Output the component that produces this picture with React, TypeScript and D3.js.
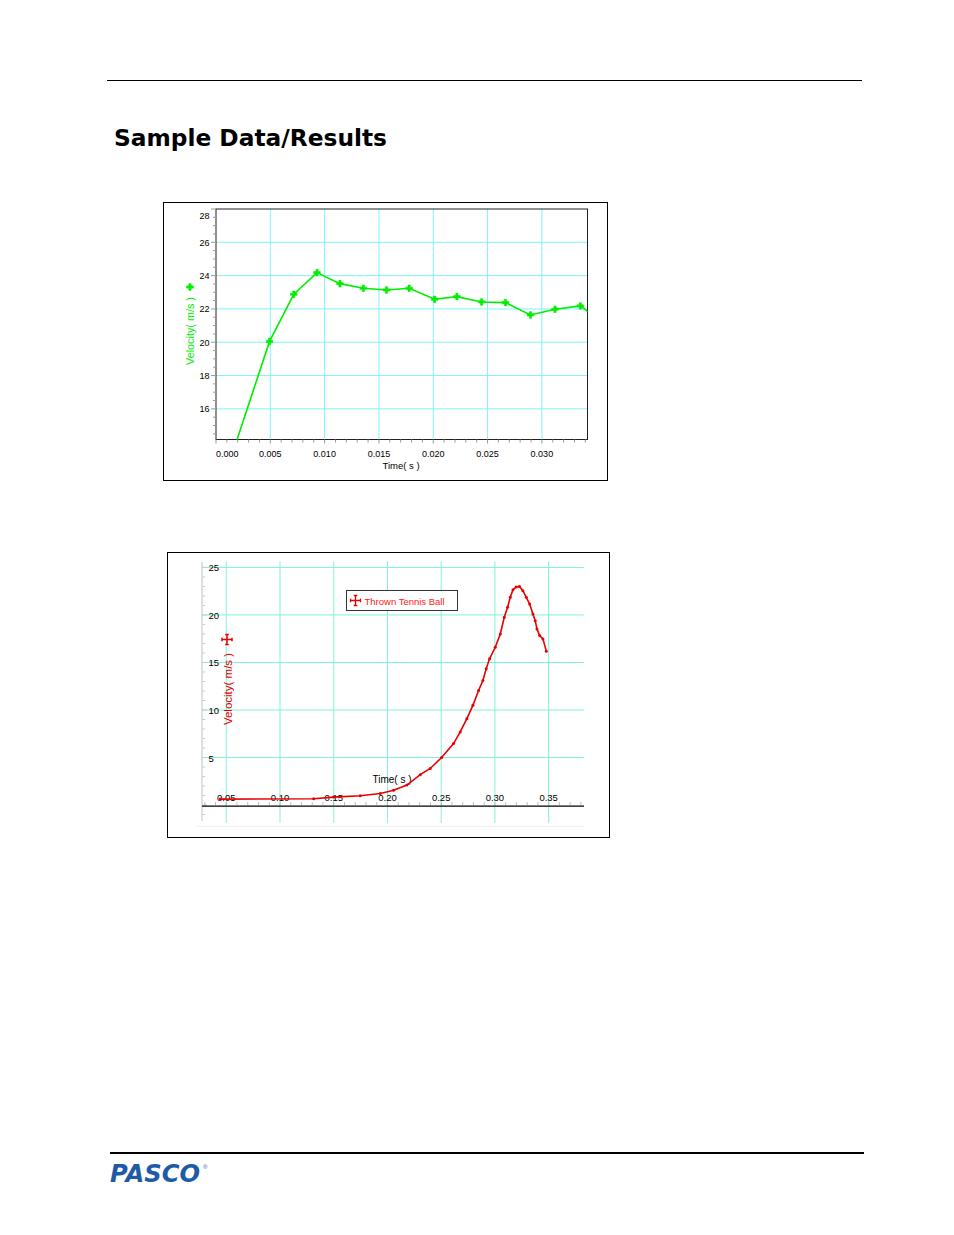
import React from "react";
import * as d3 from "d3";

// ---------- Data: top chart (green) ----------
const topTime = [0.00064, 0.00493, 0.00716, 0.0093, 0.01141, 0.01356, 0.0157, 0.01778, 0.02013, 0.02218, 0.02445, 0.02665, 0.02895, 0.03121, 0.03354, 0.03574];
const topVel = [11.6, 20.05, 22.88, 24.18, 23.52, 23.24, 23.14, 23.24, 22.58, 22.74, 22.42, 22.38, 21.64, 21.98, 22.18, 21.1];
const topXTicks = [0, 0.005, 0.01, 0.015, 0.02, 0.025, 0.03];
const topXTickLabels = ["0.000", "0.005", "0.010", "0.015", "0.020", "0.025", "0.030"];
const topYTicks = [16, 18, 20, 22, 24, 26, 28];

// ---------- Data: bottom chart (red, Thrown Tennis Ball) ----------
const botTime = [0.0444, 0.1313, 0.1499, 0.1747, 0.1933, 0.2057, 0.2181, 0.2305, 0.2398, 0.2504, 0.2615, 0.2677, 0.2739, 0.2795, 0.2848, 0.2888, 0.2919, 0.295, 0.3003, 0.305, 0.3087, 0.3118, 0.3143, 0.3168, 0.3198, 0.3229, 0.326, 0.3292, 0.3323, 0.3354, 0.3375, 0.3391, 0.3416, 0.3447, 0.3478];
const botVel = [0.63, 0.66, 0.84, 0.98, 1.22, 1.57, 2.1, 3.2, 3.85, 5.0, 6.47, 7.69, 9.09, 10.49, 12.06, 13.1, 14.34, 15.38, 16.6, 18.0, 19.76, 20.8, 21.85, 22.66, 22.95, 23.0, 22.55, 21.85, 21.15, 20.1, 19.4, 18.53, 17.83, 17.48, 16.19];
const botXTicks = [0.05, 0.1, 0.15, 0.2, 0.25, 0.3, 0.35];
const botXTickLabels = ["0.05", "0.10", "0.15", "0.20", "0.25", "0.30", "0.35"];
const botYTicks = [5, 10, 15, 20, 25];
const legendLabel = "Thrown Tennis Ball";

const FONT = "'Liberation Sans', Arial, sans-serif";

function moveIcon(cx: number, cy: number) {
  const s = 5;
  const a = 1.8;
  return `M${cx - s},${cy}H${cx + s}M${cx},${cy - s}V${cy + s}` +
    `M${cx - s},${cy - a}V${cy + a}M${cx + s},${cy - a}V${cy + a}` +
    `M${cx - a},${cy - s}H${cx + a}M${cx - a},${cy + s}H${cx + a}`;
}

function TopChart() {
  const x = d3.scaleLinear().domain([0, 0.0342]).range([216, 587.5]);
  const y = d3.scaleLinear().domain([14.16, 28]).range([439.5, 209]);
  const [x0, x1] = x.range();
  const [y0, y1] = y.range();
  const line = d3.line<number>().x((_, i) => x(topTime[i])).y((v) => y(v));
  const cross = d3.symbol().type(d3.symbolCross).size(24)();
  const minorX = d3.range(0, 0.0342, 0.001);
  const minorY = d3.range(14.5, 28.01, 0.5);
  const green = "#00ee00";
  return (
    <g>
      <rect x={163.5} y={202.5} width={444} height={278} fill="#fff" stroke="#000" strokeWidth={1} />
      <defs>
        <clipPath id="topClip">
          <rect x={x0} y={y1} width={x1 - x0} height={y0 - y1} />
        </clipPath>
      </defs>
      {topYTicks.filter((t) => t < 28).map((t) => (
        <line key={"gy" + t} x1={x0} x2={x1} y1={y(t)} y2={y(t)} stroke="#80f4f4" strokeWidth={1} />
      ))}
      {topXTicks.filter((t) => t > 0).map((t) => (
        <line key={"gx" + t} x1={x(t)} x2={x(t)} y1={y1} y2={y0} stroke="#80f4f4" strokeWidth={1} />
      ))}
      <rect x={x0} y={y1} width={x1 - x0} height={y0 - y1} fill="none" stroke="#222" strokeWidth={1} />
      {minorX.map((t, i) => (
        <line key={"mx" + i} x1={x(t)} x2={x(t)} y1={y0} y2={y0 + (i % 5 === 0 ? 4 : 3)} stroke="#999" />
      ))}
      {minorY.map((t, i) => (
        <line key={"my" + i} x1={x0} x2={x0 - (Math.abs(t % 2) < 1e-6 ? 5 : 3)} y1={y(t)} y2={y(t)} stroke="#999" />
      ))}
      {topYTicks.map((t) => (
        <text key={"ty" + t} x={209.5} y={(t === 28 ? y(t) + 6 : y(t)) + 3.5} textAnchor="end" fontSize={9} fontFamily={FONT} fill="#000">{t}</text>
      ))}
      {topXTicks.map((t, i) => (
        <text key={"tx" + t} x={i === 0 ? x0 : x(t)} y={457} textAnchor={i === 0 ? "start" : "middle"} fontSize={9} fontFamily={FONT} fill="#000">{topXTickLabels[i]}</text>
      ))}
      <text x={401} y={469} textAnchor="middle" fontSize={9.5} fontFamily={FONT} fill="#000">Time( s )</text>
      <text transform="translate(194,331) rotate(-90)" textAnchor="middle" fontSize={10.8} fontFamily={FONT} fill={green}>Velocity( m/s )</text>
      <path d={cross} transform="translate(190,287)" fill={green} stroke={green} strokeWidth={0.8} />
      <g clipPath="url(#topClip)">
        <path d={line(topVel) || ""} fill="none" stroke={green} strokeWidth={1.6} />
        {topVel.map((v, i) => (
          <path key={"p" + i} d={cross} transform={`translate(${x(topTime[i])},${y(v)})`} fill={green} stroke={green} strokeWidth={0.6} />
        ))}
      </g>
    </g>
  );
}

function BottomChart() {
  const x = d3.scaleLinear().domain([0.0274, 0.3829]).range([202, 584]);
  const y = d3.scaleLinear().domain([-2.2, 26.2]).range([826, 556]);
  const [x0, x1] = x.range();
  const red = "#e80000";
  const line = d3.line<number>().x((_, i) => x(botTime[i])).y((v) => y(v));
  const minorX = d3.range(0.03, 0.3829, 0.01);
  const minorY = d3.range(-1, 26, 1);
  const yAx0 = y(0);
  return (
    <g>
      <rect x={167.5} y={552.5} width={442} height={285} fill="#fff" stroke="#000" strokeWidth={1} />
      <line x1={197} x2={585} y1={826.5} y2={826.5} stroke="#f2f2ea" />
      {botYTicks.map((t) => (
        <line key={"gy" + t} x1={x0} x2={x1} y1={y(t)} y2={y(t)} stroke="#80f2d8" strokeWidth={1} />
      ))}
      {botXTicks.map((t) => (
        <line key={"gx" + t} x1={x(t)} x2={x(t)} y1={561.5} y2={823} stroke="#80f2d8" strokeWidth={1} />
      ))}
      <line x1={x0} x2={x0} y1={562} y2={821} stroke="#c4d0cc" strokeWidth={1.2} />
      {minorY.map((t, i) => (
        <line key={"my" + i} x1={x0} x2={x0 + (t % 5 === 0 ? 5 : 3)} y1={y(t)} y2={y(t)} stroke="#c4d0cc" />
      ))}
      {minorX.map((t, i) => (
        <line key={"mx" + i} x1={x(t)} x2={x(t)} y1={yAx0} y2={yAx0 - 3} stroke="#bbb" />
      ))}
      <line x1={x0} x2={x1} y1={yAx0 + 1} y2={yAx0 + 1} stroke="#000" strokeWidth={1.2} />
      {botYTicks.map((t) => (
        <text key={"ty" + t} x={208.5} y={y(t) + 4} textAnchor="start" fontSize={9.5} fontFamily={FONT} fill="#000">{t}</text>
      ))}
      {botXTicks.map((t, i) => (
        <text key={"tx" + t} x={x(t)} y={801} textAnchor="middle" fontSize={9.5} fontFamily={FONT} fill="#000">{botXTickLabels[i]}</text>
      ))}
      <text x={392} y={783} textAnchor="middle" fontSize={10} fontFamily={FONT} fill="#000">Time( s )</text>
      <text transform="translate(232,689) rotate(-90)" textAnchor="middle" fontSize={11.5} fontFamily={FONT} fill={red}>Velocity( m/s )</text>
      <path d={moveIcon(227, 639.5)} stroke={red} strokeWidth={1.5} fill="none" />
      <path d={line(botVel) || ""} fill="none" stroke={red} strokeWidth={1.6} />
      {botVel.map((v, i) => (
        <circle key={"p" + i} cx={x(botTime[i])} cy={y(v)} r={1.5} fill={red} />
      ))}
      <rect x={346.5} y={590.5} width={111} height={20} fill="#fff" stroke="#333" strokeWidth={1} />
      <path d={moveIcon(355.5, 600.5)} stroke={red} strokeWidth={1.3} fill="none" />
      <text x={364.5} y={604.5} fontSize={9.5} fontFamily={FONT} fill="#ff2020">{legendLabel}</text>
    </g>
  );
}

export default function App() {
  return (
    <svg width={954} height={1235} style={{ position: "absolute", left: 0, top: 0, background: "#fff" }}>
      <rect x={0} y={0} width={954} height={1235} fill="#fff" />
      <line x1={107} x2={862} y1={80.5} y2={80.5} stroke="#000" strokeWidth={1} />
      <text x={114} y={146} fontSize={23} fontWeight="bold" fontFamily="'Comic Sans MS', 'DejaVu Sans', sans-serif" fill="#000" textLength={273} lengthAdjust="spacingAndGlyphs">Sample Data/Results</text>
      <TopChart />
      <BottomChart />
      <line x1={110} x2={864} y1={1153} y2={1153} stroke="#000" strokeWidth={2} />
      <text x={110} y={1182} fontSize={24} fontWeight="900" fontStyle="italic" fontFamily="'DejaVu Sans', sans-serif" fill="#1d5ba6" textLength={90} lengthAdjust="spacingAndGlyphs">PASCO</text>
      <text x={203} y={1169} fontSize={6} fontFamily={FONT} fill="#1d5ba6">®</text>
    </svg>
  );
}
